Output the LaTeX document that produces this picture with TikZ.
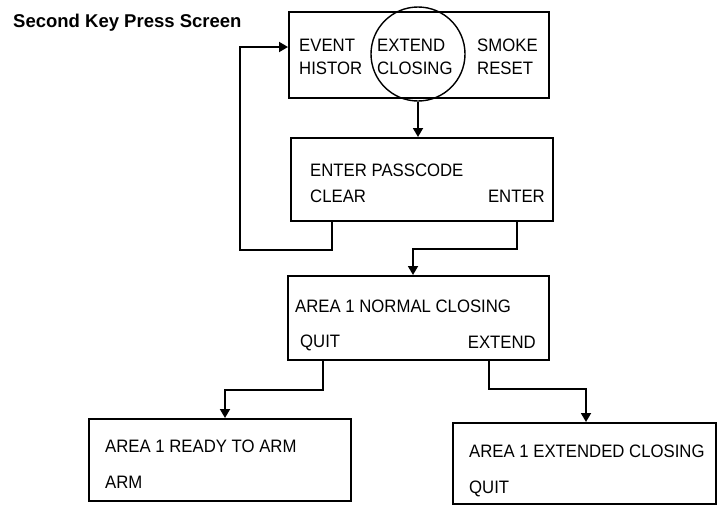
\documentclass[tikz,border=0pt]{standalone}
\usepackage{fontspec}
\setmainfont{Liberation Sans}
\newfontfamily\boxfont[FakeStretch=0.93]{Liberation Sans}
\usetikzlibrary{arrows.meta}
\tikzset{
  scr/.style={draw, line width=1.8pt, rectangle, anchor=north west, inner sep=0pt},
  lbl/.style={anchor=base west, inner sep=0pt, font=\boxfont\fontsize{18}{18}\selectfont},
  lble/.style={anchor=base east, inner sep=0pt, font=\boxfont\fontsize{18}{18}\selectfont},
  arr/.style={line width=1.8pt, -{Triangle[length=9pt,width=10pt]}},
}
\begin{document}
\begin{tikzpicture}[x=1pt,y=-1pt]
\useasboundingbox (0,0) rectangle (719,506);
\node[anchor=base west, inner sep=0pt, font=\bfseries\fontsize{18.5}{18.5}\selectfont] (title) at (13,27) {Second Key Press Screen};
% boxes
\node[scr, minimum width=260pt, minimum height=86pt] (b1) at (288,11) {};
\node[scr, minimum width=262pt, minimum height=83pt] (b2) at (290,137) {};
\node[scr, minimum width=261pt, minimum height=84pt] (b3) at (287,275) {};
\node[scr, minimum width=262pt, minimum height=82pt] (b4) at (88,418) {};
\node[scr, minimum width=263pt, minimum height=81pt] (b5) at (452,422) {};
\node[draw, circle, line width=1.4pt, minimum size=94pt, inner sep=0pt] (circ) at (418,54) {};
% texts
\node[lbl] (t1a) at (299,51) {EVENT};
\node[lbl] (t1b) at (299,74) {HISTOR};
\node[lbl] (t1c) at (377,51) {EXTEND};
\node[lbl] (t1d) at (377,74) {CLOSING};
\node[lbl] (t1e) at (477,51) {SMOKE};
\node[lbl] (t1f) at (477,74) {RESET};
\node[lbl] (t2a) at (310,176) {ENTER PASSCODE};
\node[lbl] (t2b) at (310,202) {CLEAR};
\node[lble] (t2c) at (545,202) {ENTER};
\node[lbl] (t3a) at (295,312) {AREA 1 NORMAL CLOSING};
\node[lbl] (t3b) at (300,347) {QUIT};
\node[lble] (t3c) at (536,348) {EXTEND};
\node[lbl] (t4a) at (105,452) {AREA 1 READY TO ARM};
\node[lbl] (t4b) at (105,488) {ARM};
\node[lbl] (t5a) at (469,457) {AREA 1 EXTENDED CLOSING};
\node[lbl] (t5b) at (469,493) {QUIT};
% connectors
\draw[arr] (circ.south) -- (circ.south |- b2.north);
\draw[arr] ([xshift=42pt]b2.south west) -- ++(0,28) -| ([xshift=-48pt,yshift=-36pt]b1.north west) -- ([yshift=-36pt]b1.north west);
\draw[arr] ([xshift=-37pt]b2.south east) -- ++(0,27) -| ([xshift=126pt]b3.north west);
\draw[arr] ([xshift=36pt]b3.south west) -- ++(0,29) -| ([xshift=137pt]b4.north west);
\draw[arr] ([xshift=-61pt]b3.south east) -- ++(0,28) -| ([xshift=134pt]b5.north west);
\end{tikzpicture}
\end{document}
